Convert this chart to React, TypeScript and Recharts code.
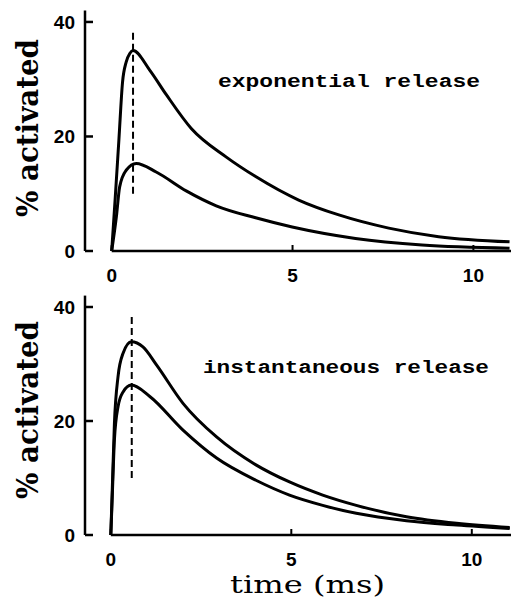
import React from 'react';
import { LineChart, Line, XAxis, YAxis, ReferenceLine } from 'recharts';

// exponential release (top panel)
const expTimeHigh = [0, 0.1, 0.2, 0.3, 0.4, 0.5, 0.59, 1.05, 1.51, 2.2, 3.17, 3.98, 5.17, 6.28, 7.66, 9.04, 11.0];
const expHigh = [0, 9.5, 19.5, 29.5, 33.0, 34.5, 35.0, 31.6, 27.3, 21.4, 16.4, 13.0, 8.9, 6.3, 4.0, 2.5, 1.6];
const expTimeLow = [0, 0.13, 0.22, 0.4, 0.68, 1.23, 2.06, 2.89, 3.98, 4.99, 6.74, 8.58, 11.0];
const expLow = [0, 6.0, 11.2, 14.1, 15.3, 13.8, 10.5, 7.9, 5.8, 4.2, 2.2, 1.05, 0.5];

// instantaneous release (bottom panel)
const instTimeHigh = [0, 0.04, 0.1, 0.2, 0.34, 0.57, 0.89, 1.27, 2.0, 2.93, 4.02, 4.95, 5.87, 6.8, 8.19, 9.58, 11.05];
const instHigh = [0, 7.9, 19.6, 27.8, 31.9, 33.9, 33.0, 29.8, 23.1, 17.2, 12.3, 9.3, 7.0, 5.2, 3.2, 2.05, 1.3];
const instTimeLow = [0, 0.04, 0.1, 0.2, 0.34, 0.57, 1.08, 2.0, 2.93, 4.02, 4.95, 5.87, 6.8, 8.19, 9.58, 11.05];
const instLow = [0, 6.7, 16.7, 22.5, 25.1, 26.3, 24.3, 18.4, 13.5, 9.6, 7.0, 5.2, 3.8, 2.5, 1.75, 1.15];

const xTicks = [0, 5, 10];
const yTicks = [0, 20, 40];

const toPoints = (t: number[], v: number[]) => t.map((x, i) => ({ t: x, v: v[i] }));

const XTick = ({ x, y, payload }: any) => (
  <text x={x} y={y} dy={14} textAnchor="middle" fontFamily="Liberation Sans, Arial" fontWeight="bold" fontSize={19} fill="#000">
    {payload.value}
  </text>
);

const YTick = ({ x, y, payload }: any) => (
  <text x={x} y={y} dy={7} textAnchor="end" fontFamily="Liberation Sans, Arial" fontWeight="bold" fontSize={19} fill="#000">
    {payload.value}
  </text>
);

const ink = '#000';

const Panel = ({ high, low, height, top, xDomain, xHeight, dashX }: any) => (
  <LineChart width={512} height={height} margin={{ top, right: 1, bottom: 0, left: 0 }}>
    <XAxis
      type="number"
      dataKey="t"
      domain={xDomain}
      ticks={xTicks}
      allowDataOverflow
      axisLine={false}
      tickLine={{ stroke: ink, strokeWidth: 2 }}
      tickSize={-6}
      tickMargin={23}
      tick={<XTick />}
      height={xHeight}
    />
    <YAxis
      type="number"
      domain={[0, 42]}
      ticks={yTicks}
      allowDataOverflow
      width={85}
      axisLine={{ stroke: ink, strokeWidth: 2.5 }}
      tickLine={{ stroke: ink, strokeWidth: 2.5 }}
      tickSize={-8}
      tickMargin={18}
      tick={<YTick />}
    />
    <ReferenceLine segment={[{ x: 0, y: 0 }, { x: xDomain[1], y: 0 }]} stroke={ink} strokeWidth={2.5} />
    <ReferenceLine segment={[{ x: dashX, y: 10 }, { x: dashX, y: 38.4 }]} stroke={ink} strokeWidth={2} strokeDasharray="7 4" />
    <Line data={high} dataKey="v" type="monotone" stroke={ink} strokeWidth={3} dot={false} isAnimationActive={false} />
    <Line data={low} dataKey="v" type="monotone" stroke={ink} strokeWidth={3} dot={false} isAnimationActive={false} />
  </LineChart>
);

export default function App() {
  return (
    <div style={{ position: 'absolute', left: 0, top: 0, width: 512, height: 605, background: '#fff' }}>
      <div style={{ position: 'absolute', left: 0, top: 0 }}>
        <Panel
          high={toPoints(expTimeHigh, expHigh)}
          low={toPoints(expTimeLow, expLow)}
          height={290}
          top={10.5}
          xHeight={39}
          xDomain={[-0.738, 11.04]}
          dashX={0.59}
        />
      </div>
      <div style={{ position: 'absolute', left: 0, top: 290 }}>
        <Panel
          high={toPoints(instTimeHigh, instHigh)}
          low={toPoints(instTimeLow, instLow)}
          height={315}
          top={5.6}
          xHeight={70}
          xDomain={[-0.715, 11.086]}
          dashX={0.58}
        />
      </div>
      <svg width={512} height={605} style={{ position: 'absolute', left: 0, top: 0, pointerEvents: 'none' }}>
        <text transform="translate(38,128) rotate(-90)" textAnchor="middle" fontFamily="DejaVu Serif" fontWeight="bold" fontSize={30} textLength={178} lengthAdjust="spacingAndGlyphs" fill={ink}>
          % activated
        </text>
        <text transform="translate(38,410) rotate(-90)" textAnchor="middle" fontFamily="DejaVu Serif" fontWeight="bold" fontSize={30} textLength={178} lengthAdjust="spacingAndGlyphs" fill={ink}>
          % activated
        </text>
        <text x={218} y={87} fontFamily="Liberation Mono" fontWeight="bold" fontSize={19} textLength={262} lengthAdjust="spacingAndGlyphs" fill={ink}>
          exponential release
        </text>
        <text x={203} y={373} fontFamily="Liberation Mono" fontWeight="bold" fontSize={19} textLength={286} lengthAdjust="spacingAndGlyphs" fill={ink}>
          instantaneous release
        </text>
        <text x={230} y={593} fontFamily="DejaVu Serif" fontSize={25} textLength={155} lengthAdjust="spacingAndGlyphs" fill={ink}>
          time (ms)
        </text>
      </svg>
    </div>
  );
}
